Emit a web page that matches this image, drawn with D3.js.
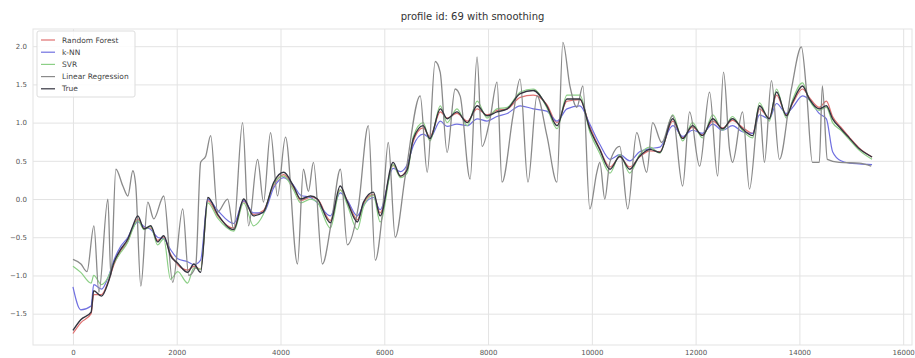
<!DOCTYPE html>
<html>
<head>
<meta charset="utf-8">
<script src="https://cdn.jsdelivr.net/npm/d3@7"></script>
<style>
  body { margin: 0; background: #fff; }
  text { font-family: "DejaVu Sans", sans-serif; }
</style>
</head>
<body>
<script>
// sample positions shared by the smooth series
var xs = [0, 150, 350, 400, 550, 680, 790, 920, 1060, 1150,
  1250, 1370, 1500, 1630, 1750, 1880, 2020, 2210, 2330, 2460,
  2600, 2790, 3100, 3290, 3480, 3670, 3870, 4060, 4250, 4390,
  4580, 4710, 4960, 5150, 5290, 5480, 5600, 5790, 5920, 6170,
  6310, 6440, 6560, 6750, 6880, 7080, 7210, 7400, 7600, 7790,
  7980, 8170, 8370, 8620, 8870, 9130, 9330, 9520, 9770, 9960,
  10150, 10350, 10540, 10730, 10920, 11120, 11310, 11560, 11750, 11940,
  12130, 12330, 12520, 12710, 12900, 13100, 13230, 13420, 13560, 13750,
  13870, 14060, 14190, 14380, 14520, 14640, 14800, 14960, 15150, 15400];

var trueVals = [-1.72, -1.58, -1.48, -1.20, -1.27, -1.09, -0.83, -0.66, -0.52, -0.36,
  -0.22, -0.39, -0.35, -0.56, -0.48, -0.74, -0.84, -0.96, -0.85, -0.96,
  0.02, -0.20, -0.40, 0.00, -0.22, -0.17, 0.22, 0.35, 0.17, 0.00,
  0.04, 0.00, -0.31, 0.17, -0.04, -0.30, -0.04, 0.09, -0.22, 0.48,
  0.30, 0.38, 0.79, 0.96, 0.79, 1.18, 1.05, 1.14, 1.00, 1.22,
  1.09, 1.14, 1.18, 1.38, 1.42, 1.22, 0.96, 1.31, 1.31, 0.92,
  0.65, 0.39, 0.56, 0.39, 0.56, 0.65, 0.61, 1.05, 0.79, 0.96,
  0.83, 1.05, 0.92, 1.05, 0.92, 0.83, 1.22, 1.05, 1.40, 1.09,
  1.27, 1.48, 1.31, 1.18, 1.22, 1.05, 0.92, 0.80, 0.66, 0.55];

var rfVals = [-1.76, -1.62, -1.50, -1.25, -1.25, -1.08, -0.86, -0.68, -0.55, -0.38,
  -0.26, -0.38, -0.38, -0.54, -0.50, -0.72, -0.86, -0.93, -0.88, -0.92,
  -0.02, -0.22, -0.38, -0.03, -0.20, -0.15, 0.18, 0.32, 0.15, -0.02,
  0.02, 0.00, -0.28, 0.12, -0.02, -0.27, -0.06, 0.06, -0.18, 0.44,
  0.30, 0.40, 0.76, 0.93, 0.82, 1.14, 1.06, 1.12, 1.02, 1.18,
  1.10, 1.16, 1.18, 1.33, 1.36, 1.24, 1.00, 1.28, 1.30, 0.95,
  0.66, 0.42, 0.55, 0.42, 0.55, 0.63, 0.62, 1.02, 0.80, 0.94,
  0.84, 1.02, 0.93, 1.03, 0.94, 0.86, 1.18, 1.06, 1.36, 1.10,
  1.25, 1.44, 1.33, 1.20, 1.28, 1.08, 0.94, 0.81, 0.67, 0.55];

var knnVals = [-1.15, -1.45, -1.40, -1.12, -1.18, -1.02, -0.80, -0.62, -0.50, -0.38,
  -0.30, -0.36, -0.40, -0.50, -0.52, -0.66, -0.78, -0.82, -0.86, -0.80,
  0.00, -0.15, -0.32, -0.02, -0.18, -0.18, 0.15, 0.28, 0.18, 0.05,
  0.02, -0.05, -0.22, 0.08, -0.02, -0.22, -0.08, 0.02, -0.14, 0.40,
  0.36, 0.45, 0.70, 0.85, 0.80, 1.02, 0.95, 0.98, 0.96, 1.05,
  1.02, 1.08, 1.12, 1.22, 1.18, 1.15, 1.02, 1.18, 1.22, 0.98,
  0.72, 0.52, 0.58, 0.50, 0.62, 0.66, 0.68, 0.96, 0.82, 0.90,
  0.86, 0.98, 0.90, 0.96, 0.88, 0.86, 1.10, 1.05, 1.25, 1.12,
  1.20, 1.35, 1.30, 1.12, 1.05, 0.62, 0.50, 0.47, 0.46, 0.45];

var svrVals = [-0.88, -0.96, -1.10, -1.00, -1.12, -1.02, -0.84, -0.70, -0.56, -0.40,
  -0.28, -0.40, -0.36, -0.60, -0.52, -1.05, -0.95, -1.10, -0.90, -0.92,
  -0.05, -0.25, -0.42, -0.05, -0.35, -0.20, 0.20, 0.30, 0.12, -0.05,
  0.00, -0.04, -0.38, 0.12, -0.08, -0.40, -0.10, 0.05, -0.30, 0.45,
  0.28, 0.34, 0.82, 1.00, 0.76, 1.22, 1.00, 1.18, 0.96, 1.28,
  1.06, 1.18, 1.20, 1.40, 1.44, 1.20, 0.92, 1.36, 1.36, 0.88,
  0.60, 0.34, 0.58, 0.34, 0.58, 0.68, 0.60, 1.10, 0.76, 1.00,
  0.80, 1.10, 0.90, 1.08, 0.90, 0.80, 1.26, 1.02, 1.44, 1.06,
  1.30, 1.52, 1.30, 1.16, 1.20, 1.00, 0.90, 0.78, 0.64, 0.52];

// linear regression is spiky, so it keeps its own sample positions
var lrX = [0, 154, 270, 404, 500, 673, 731, 827, 962, 1058,
  1154, 1211, 1308, 1442, 1558, 1750, 1923, 2115, 2231, 2365,
  2461, 2558, 2654, 2788, 2981, 3096, 3269, 3385, 3558, 3673,
  3808, 3942, 4096, 4327, 4442, 4538, 4634, 4808, 4981, 5154,
  5288, 5500, 5692, 5827, 5961, 6077, 6211, 6404, 6692, 6827,
  6981, 7077, 7211, 7365, 7461, 7654, 7788, 7884, 8038, 8173,
  8269, 8481, 8615, 8769, 8942, 9134, 9327, 9442, 9577, 9711,
  9827, 9961, 10096, 10154, 10250, 10346, 10538, 10692, 10865, 11057,
  11173, 11346, 11557, 11750, 11884, 12077, 12269, 12423, 12538, 12654,
  12711, 12904, 13038, 13230, 13327, 13461, 13615, 13846, 14038, 14134,
  14250, 14384, 14442, 14538, 14769, 15154, 15384];

var lrVals = [-0.79, -0.85, -0.95, -0.35, -1.22, 0.00, -1.00, 0.39, 0.17, 0.04,
  0.37, 0.17, -1.14, -0.04, -0.26, 0.04, -1.09, -0.13, -1.00, -0.88,
  0.48, 0.56, 0.83, -0.17, 0.00, -0.39, 1.00, -0.35, 0.52, -0.04,
  0.87, 0.04, 0.81, -0.85, 0.39, 0.10, 0.48, -0.85, -0.30, 0.39,
  -0.60, -0.10, 0.96, -0.80, -0.20, 0.74, -0.50, 0.30, 1.35, 0.35,
  1.80, 1.66, 0.61, 1.44, 1.35, 0.26, 1.86, 0.69, 1.05, 1.53,
  0.22, 1.09, 1.57, 0.22, 1.35, 0.83, 0.22, 2.05, 1.48, 1.20,
  1.48, -0.13, 0.35, 0.48, 0.00, 0.48, 0.69, -0.13, 0.87, 0.35,
  1.00, 0.74, 1.09, 0.17, 1.14, 0.43, 1.40, 0.30, 1.66, 0.65,
  0.48, 1.14, 0.13, 1.22, 0.48, 1.55, 0.52, 1.44, 1.99, 1.44,
  0.48, 0.48, 1.48, 0.52, 0.48, 0.47, 0.43];

var xTicks = [0, 2000, 4000, 6000, 8000, 10000, 12000, 14000, 16000];
var yTicks = [-1.5, -1.0, -0.5, 0.0, 0.5, 1.0, 1.5, 2.0];

var title = 'profile id: 69 with smoothing';

var series = [
  {name: 'Random Forest', x: xs, y: rfVals, color: '#e07070', width: 1.2},
  {name: 'k-NN', x: xs, y: knnVals, color: '#7070e0', width: 1.2},
  {name: 'SVR', x: xs, y: svrVals, color: '#8ccf86', width: 1.2},
  {name: 'Linear Regression', x: lrX, y: lrVals, color: '#8a8a8a', width: 1.3},
  {name: 'True', x: xs, y: trueVals, color: '#34343f', width: 1.4}
];

var W = 915, H = 358;
var margins = {top: 29, bottom: 13, left: 33, right: 3};
var width = W - margins.left - margins.right;
var height = H - margins.top - margins.bottom;

var xScale = d3.scaleLinear()
    .domain([-770, 16170])
    .range([0, width]);
var yScale = d3.scaleLinear()
    .domain([-1.91, 2.225])
    .range([height, 0]);

var svg = d3.select('body').append('svg')
    .attr('width', W)
    .attr('height', H);

var g = svg.append('g')
    .attr('transform', `translate(${margins.left}, ${margins.top})`);

// grid lines via axes with full-length ticks
var xAxis = d3.axisBottom(xScale)
    .tickValues(xTicks)
    .tickSize(-height)
    .tickPadding(5)
    .tickFormat(d3.format('d'));
var yAxis = d3.axisLeft(yScale)
    .tickValues(yTicks)
    .tickSize(-width)
    .tickPadding(6)
    .tickFormat(function(d) { return d3.format('.1f')(d).replace('-', '\u2212'); });

g.append('g')
    .attr('class', 'axis')
    .attr('transform', `translate(0, ${height})`)
    .call(xAxis);
g.append('g')
    .attr('class', 'axis')
    .call(yAxis);

g.selectAll('.axis .domain').remove();
g.selectAll('.axis line')
    .attr('stroke', '#e3e3e3')
    .attr('stroke-width', 1);
g.selectAll('.axis text')
    .attr('fill', '#555')
    .style('font-size', '7px');

// frame
g.append('rect')
    .attr('width', width)
    .attr('height', height)
    .attr('fill', 'none')
    .attr('stroke', '#e3e3e3');

// lines, lightly rounded like the smoothed originals
var line = d3.line()
    .curve(d3.curveMonotoneX)
    .x(function(d) { return xScale(d[0]); })
    .y(function(d) { return yScale(d[1]); });

g.selectAll('path.series')
    .data(series)
    .enter()
  .append('path')
    .attr('class', 'series')
    .attr('fill', 'none')
    .attr('stroke', function(d) { return d.color; })
    .attr('stroke-width', function(d) { return d.width; })
    .attr('stroke-linejoin', 'round')
    .attr('d', function(d) {
      return line(d.x.map(function(v, i) { return [v, d.y[i]]; }));
    });

// legend
var legend = g.append('g')
    .attr('transform', 'translate(4, 2)');
legend.append('rect')
    .attr('width', 98)
    .attr('height', 66)
    .attr('rx', 2)
    .attr('fill', 'rgba(255,255,255,0.85)')
    .attr('stroke', '#ddd');
var rows = legend.selectAll('g.row')
    .data(series)
    .enter()
  .append('g')
    .attr('class', 'row')
    .attr('transform', function(d, i) { return `translate(0, ${9 + i * 12.2})`; });
rows.append('line')
    .attr('x1', 4).attr('x2', 18)
    .attr('stroke', function(d) { return d.color; })
    .attr('stroke-width', 1.2);
rows.append('text')
    .attr('x', 25)
    .attr('y', 2.5)
    .attr('fill', '#444')
    .style('font-size', '7.5px')
    .text(function(d) { return d.name; });

// title
svg.append('text')
    .attr('x', margins.left + width / 2)
    .attr('y', 20)
    .attr('text-anchor', 'middle')
    .attr('fill', '#333')
    .style('font-size', '10px')
    .text(title);
</script>
</body>
</html>
